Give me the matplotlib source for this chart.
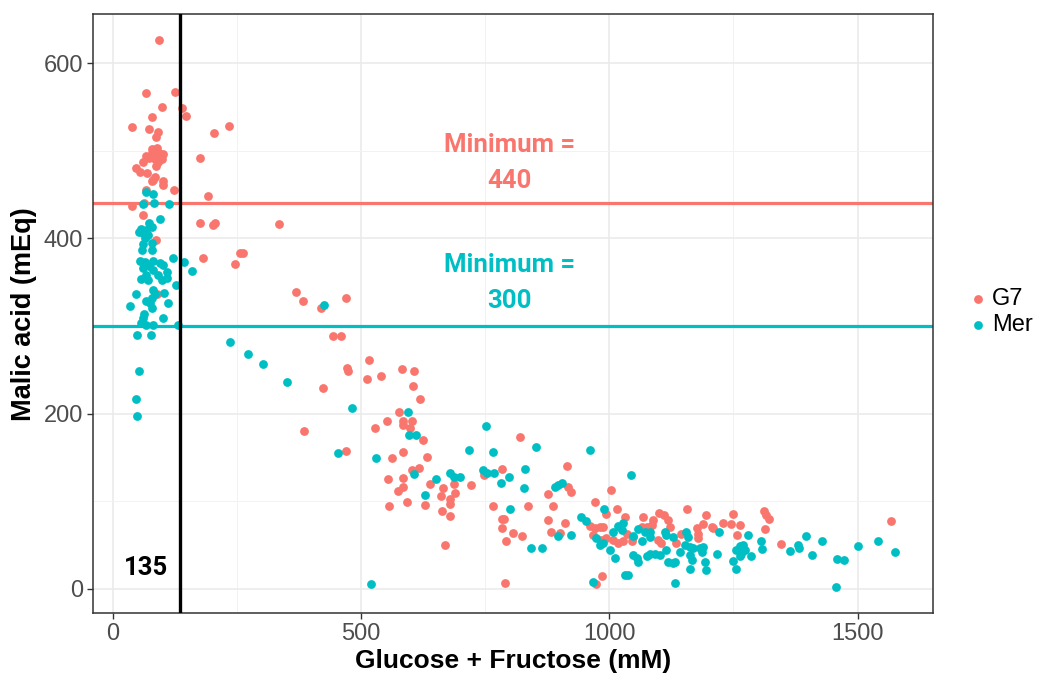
import matplotlib
matplotlib.use("Agg")
import matplotlib.pyplot as plt

# G7 points (sugar, malic acid)
g7_x = [94, 68, 125, 99, 79, 139, 147, 40, 74, 91, 87, 204, 235,
        80, 89, 79, 67, 94, 101, 74, 85, 99, 62, 92, 87, 48, 55, 70, 86, 82, 101, 102, 123, 176, 193, 68, 79,
        40, 63, 62, 176, 202, 207, 335, 87, 182, 256, 263, 246, 89,
        369, 384, 419, 470, 443, 460, 471, 474, 424, 386, 469,
        516, 512, 540, 582, 607, 605, 619, 576, 552, 529, 585, 602, 598, 585,
        624, 584, 563, 633, 555, 584, 602, 617, 585, 574, 592, 557, 639, 665, 661, 679, 680, 689, 687,
        629, 664, 679, 721, 747, 783, 765, 820, 837, 783, 788, 784, 806, 825, 793, 670,
        915, 877, 887, 917, 922, 877, 882, 900, 910, 971, 1004, 1016, 1031, 1068, 986, 973, 790,
        993, 1088, 1100, 1110, 1118, 1157, 1194, 1189, 1209, 1228, 1244, 1249, 1263, 1257,
        1311, 1316, 1322, 1314, 1345, 1567,
        988, 994, 1008, 1018, 1028, 1035, 1045, 1048, 1065, 1075, 1085, 1098, 1105, 1122, 1135, 1145,
        1176, 1179, 1179, 1206, 961, 971, 981, 967, 984]
g7_y = [626, 566, 567, 550, 539, 549, 540, 527, 525, 521, 516, 520, 528,
        502, 503, 497, 494, 497, 496, 492, 491, 491, 487, 487, 482, 480, 476, 475, 470, 467, 465, 461, 455, 492, 448, 455, 465,
        437, 440, 427, 418, 415, 417, 416, 398, 377, 383, 383, 371, 336,
        339, 328, 321, 332, 288, 288, 252, 248, 229, 180, 157,
        261, 239, 243, 251, 248, 231, 217, 202, 191, 184, 191, 191, 184, 187,
        170, 156, 149, 150, 125, 126, 136, 138, 116, 112, 99, 95, 120, 115, 106, 102, 97, 109, 120,
        96, 89, 83, 118, 130, 137, 95, 173, 95, 80, 80, 69, 64, 60, 55, 50,
        140, 108, 94, 116, 111, 78, 65, 64, 75, 99, 113, 91, 82, 82, 15, 5, 7,
        85, 78, 86, 84, 78, 91, 84, 74, 69, 75, 74, 85, 73, 61,
        89, 84, 80, 68, 51, 77,
        71, 58, 56, 52, 54, 63, 54, 59, 71, 71, 73, 56, 52, 71, 52, 63,
        69, 63, 58, 71, 72, 69, 71, 61, 56]

# Mer points
mer_x = [68, 81, 62, 84, 114, 95, 74, 58, 68, 79, 54, 62, 72, 65, 62, 79, 79, 60, 122, 144, 159,
         55, 65, 82, 95, 102, 62, 74, 82, 67, 92, 109, 58, 72, 100, 109, 127, 48, 82, 85, 103,
         79, 68, 75, 112, 36, 79, 64, 62, 102, 58, 68, 82, 132, 50, 77, 54, 48, 50,
         236, 272, 303, 351, 426, 454, 483, 531, 595, 596, 610, 607, 629, 652, 680, 687, 700,
         717, 751, 765, 745, 754, 768, 782, 798, 830, 829, 800, 853, 890, 897, 905, 961, 1043,
         944, 953, 989, 1018, 1028, 1008, 897, 922, 974, 1047, 1058, 1071, 843, 864, 520,
         1021, 1082, 1082, 1112, 1115, 1128, 1155, 1159, 1001, 1011, 1048, 1055, 1058, 1075,
         1082, 1092, 1102, 1115, 1118, 1128, 1132, 1142, 1152, 1162, 1166, 1162, 1182, 1186,
         1189, 1192, 1194, 1216, 1221, 1249, 1256, 1256, 1263, 1269, 1273, 1279, 1286, 1306,
         1308, 1363, 1380, 1382, 1395, 1409, 1429, 1459, 1473, 1457, 1500, 1541, 1575,
         1031, 1038, 1133, 967, 981, 988, 1025, 1065, 1169, 1162, 1266, 1263]
mer_y = [453, 451, 439, 440, 439, 422, 417, 411, 410, 413, 407, 406, 404, 400, 394, 395, 387, 387, 378, 373, 363,
         374, 373, 374, 372, 370, 366, 368, 364, 358, 358, 362, 354, 352, 352, 355, 347, 337, 341, 337, 338,
         332, 328, 326, 326, 323, 321, 314, 309, 309, 303, 301, 301, 301, 290, 290, 249, 217, 197,
         282, 268, 257, 236, 324, 155, 206, 149, 202, 175, 176, 131, 107, 125, 132, 127, 128,
         158, 186, 156, 136, 132, 132, 121, 127, 137, 115, 91, 162, 116, 118, 121, 158, 130,
         82, 77, 91, 72, 75, 65, 60, 61, 58, 60, 68, 65, 46, 46, 6,
         71, 65, 59, 65, 61, 59, 65, 59, 44, 35, 38, 35, 30, 37,
         40, 40, 38, 44, 31, 29, 31, 42, 50, 48, 33, 23, 46, 42,
         48, 30, 21, 40, 65, 32, 23, 44, 49, 50, 44, 61, 37, 55,
         45, 43, 50, 47, 60, 38, 55, 34, 33, 2, 49, 54, 42,
         16, 16, 7, 8, 50, 52, 67, 54, 46, 38, 40, 37]

g7_min = 440
mer_min = 300
sugar_cut = 135

RED = "#F8766D"
CYAN = "#00BFC4"

fig = plt.figure(figsize=(10.37, 6.77), dpi=100)
ax = fig.add_axes([0.0894, 0.0941, 0.81, 0.8852])

ax.axhline(g7_min, color=RED, lw=2.3, zorder=2)
ax.axhline(mer_min, color=CYAN, lw=2.3, zorder=2)
ax.scatter(g7_x, g7_y, s=40, color=RED, lw=0, label="G7", zorder=3)
ax.scatter(mer_x, mer_y, s=40, color=CYAN, lw=0, label="Mer", zorder=3)
ax.axvline(sugar_cut, color="black", lw=2.4, zorder=4)

ax.text(800, 486, "Minimum =\n440", ha="center", va="center", color=RED,
        fontsize=18.5, fontweight="bold", linespacing=1.65, family="Roboto")
ax.text(800, 349, "Minimum =\n300", ha="center", va="center", color=CYAN,
        fontsize=18.5, fontweight="bold", linespacing=1.65, family="Roboto")
ax.text(68, 24, "135", ha="center", va="center", color="black",
        fontsize=18.5, fontweight="bold", family="Roboto")

ax.set_xlim(-40, 1651)
ax.set_ylim(-28, 656)
ax.set_xticks([0, 500, 1000, 1500])
ax.set_xticks([250, 750, 1250], minor=True)
ax.set_yticks([0, 200, 400, 600])
ax.set_yticks([100, 300, 500], minor=True)
ax.grid(which="major", color="#EBEBEB", lw=1.2, zorder=0)
ax.grid(which="minor", color="#F2F2F2", lw=0.7, zorder=0)
ax.set_axisbelow(True)

for sp in ax.spines.values():
    sp.set_color("#333333")
    sp.set_linewidth(1.1)
ax.tick_params(which="major", direction="out", length=4, width=1, color="#333333",
               labelcolor="#4D4D4D", labelsize=17, pad=3)
ax.tick_params(which="minor", length=0)
for lab in ax.get_xticklabels() + ax.get_yticklabels():
    lab.set_family("Liberation Sans")

ax.set_xlabel("Glucose + Fructose (mM)", fontsize=19, fontweight="bold",
              family="Liberation Sans", labelpad=3)
ax.set_ylabel("Malic acid (mEq)", fontsize=19.5, fontweight="bold",
              family="Liberation Sans", labelpad=5)

leg = fig.legend(handles=ax.collections, labels=["G7", "Mer"],
                 loc="center left", bbox_to_anchor=(0.936, 0.539), frameon=False,
                 handlelength=0.6, handletextpad=0.3, borderpad=0, borderaxespad=0,
                 labelspacing=0.2, prop={"family": "Liberation Sans", "size": 17})

fig.savefig("out.png", dpi=100)
